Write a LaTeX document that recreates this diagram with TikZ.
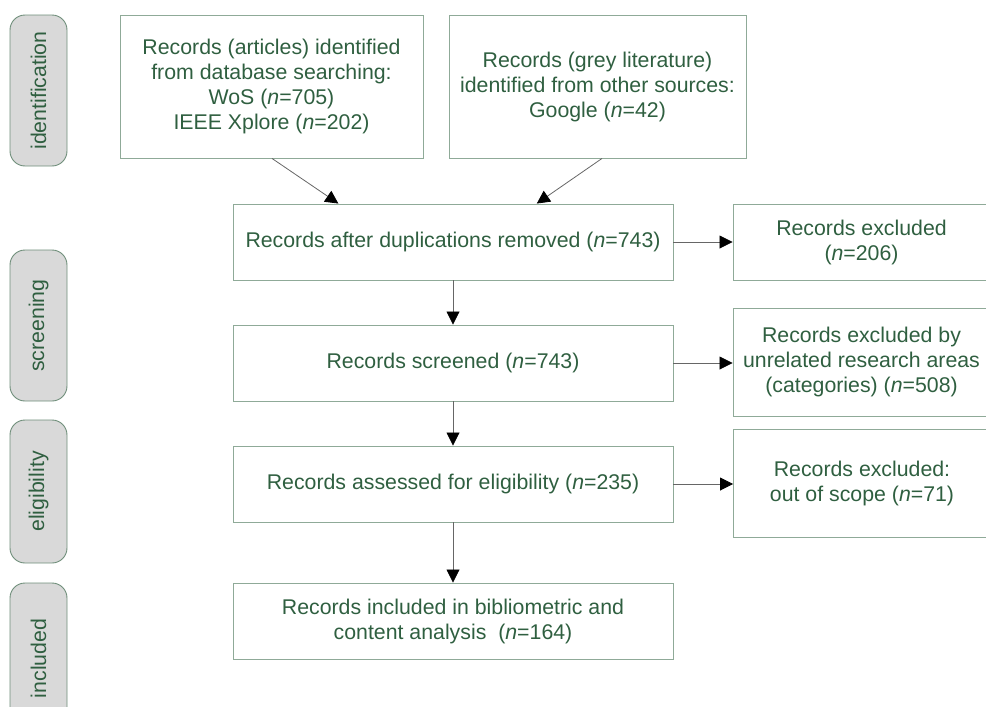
\documentclass[tikz,border=0pt]{standalone}
\usepackage{fontspec}
\setmainfont{Liberation Sans}
\usetikzlibrary{arrows.meta,calc}

\definecolor{txtgreen}{HTML}{2F5F40}
\definecolor{edgegreen}{HTML}{8FAA98}
\definecolor{phaseedge}{HTML}{6F8E7A}
\definecolor{phasefill}{HTML}{D9D9D9}

\tikzset{
  box/.style={draw=edgegreen, line width=0.9pt, text=txtgreen, align=center,
    inner sep=0pt, font=\fontsize{21.3}{25}\selectfont},
  phase/.style={draw=phaseedge, fill=phasefill, line width=0.9pt, rounded corners=15pt,
    text=txtgreen, rotate=90, minimum height=57pt, inner sep=0pt,
    font=\fontsize{21.3}{25}\selectfont},
  flow/.style={draw=black!60, line width=0.8pt,
    -{Triangle[length=13pt,width=13pt,color=black,fill=black]}}
}

\begin{document}
\begin{tikzpicture}[x=1pt,y=-1pt]
        \useasboundingbox (0,0) rectangle (986,707);
        % phases
        \node[phase, minimum width=151pt] (ident) at (38.5,90.5) {identification};
        \node[phase, minimum width=151pt] (screen) at (38.5,325.5) {screening};
        \node[phase, minimum width=143pt] (elig) at (38.5,491.5) {eligibility};
        \node[phase, minimum width=151pt] (incl) at (38.5,658.5) {included};
        % main column
        \node[box, minimum width=303pt, minimum height=143pt] (articles) at (271.5,86.5)
                {Records (articles) identified\\from database searching:\\WoS (\textit{n}=705)\\IEEE Xplore (\textit{n}=202)};
        \node[box, minimum width=297pt, minimum height=143pt] (grey) at (597.5,86.5)
                {Records (grey literature)\\identified from other sources:\\Google (\textit{n}=42)};
        \node[box, minimum width=440pt, minimum height=76pt] (dedup) at (453,242)
                {Records after duplications removed (\textit{n}=743)};
        \node[box, minimum width=440pt, minimum height=76pt] (screened) at (453,363)
                {Records screened (\textit{n}=743)};
        \node[box, minimum width=440pt, minimum height=76pt] (assessed) at (453,484)
                {Records assessed for eligibility (\textit{n}=235)};
        \node[box, minimum width=440pt, minimum height=76pt] (included) at (453,621)
                {Records included in bibliometric and\\content analysis~ (\textit{n}=164)};
        % excluded column
        \node[box, minimum width=257pt, minimum height=76pt] (excl1) at (861.5,242)
                {Records excluded\\(\textit{n}=206)};
        \node[box, minimum width=257pt, minimum height=108pt] (excl2) at (861.5,362)
                {Records excluded by\\unrelated research areas\\(categories) (\textit{n}=508)};
        \node[box, minimum width=257pt, minimum height=108pt] (excl3) at (862,483)
                {Records excluded:\\out of scope (\textit{n}=71)};
        % connectors
        \draw[flow] ($(articles.south)+(0.5,0)$) -- ($(dedup.north)!0.52!(dedup.north west)$);
        \draw[flow] ($(grey.south)+(4.5,0)$) -- ($(dedup.north)!0.38!(dedup.north east)$);
        \foreach \a/\b in {dedup/screened,screened/assessed,assessed/included}
                \draw[flow] (\a.south) -- (\b.north);
        \foreach \a/\b in {dedup/excl1,screened/excl2,assessed/excl3}
                \draw[flow] (\a.east) -- (\a.east -| \b.west);
\end{tikzpicture}
\end{document}
